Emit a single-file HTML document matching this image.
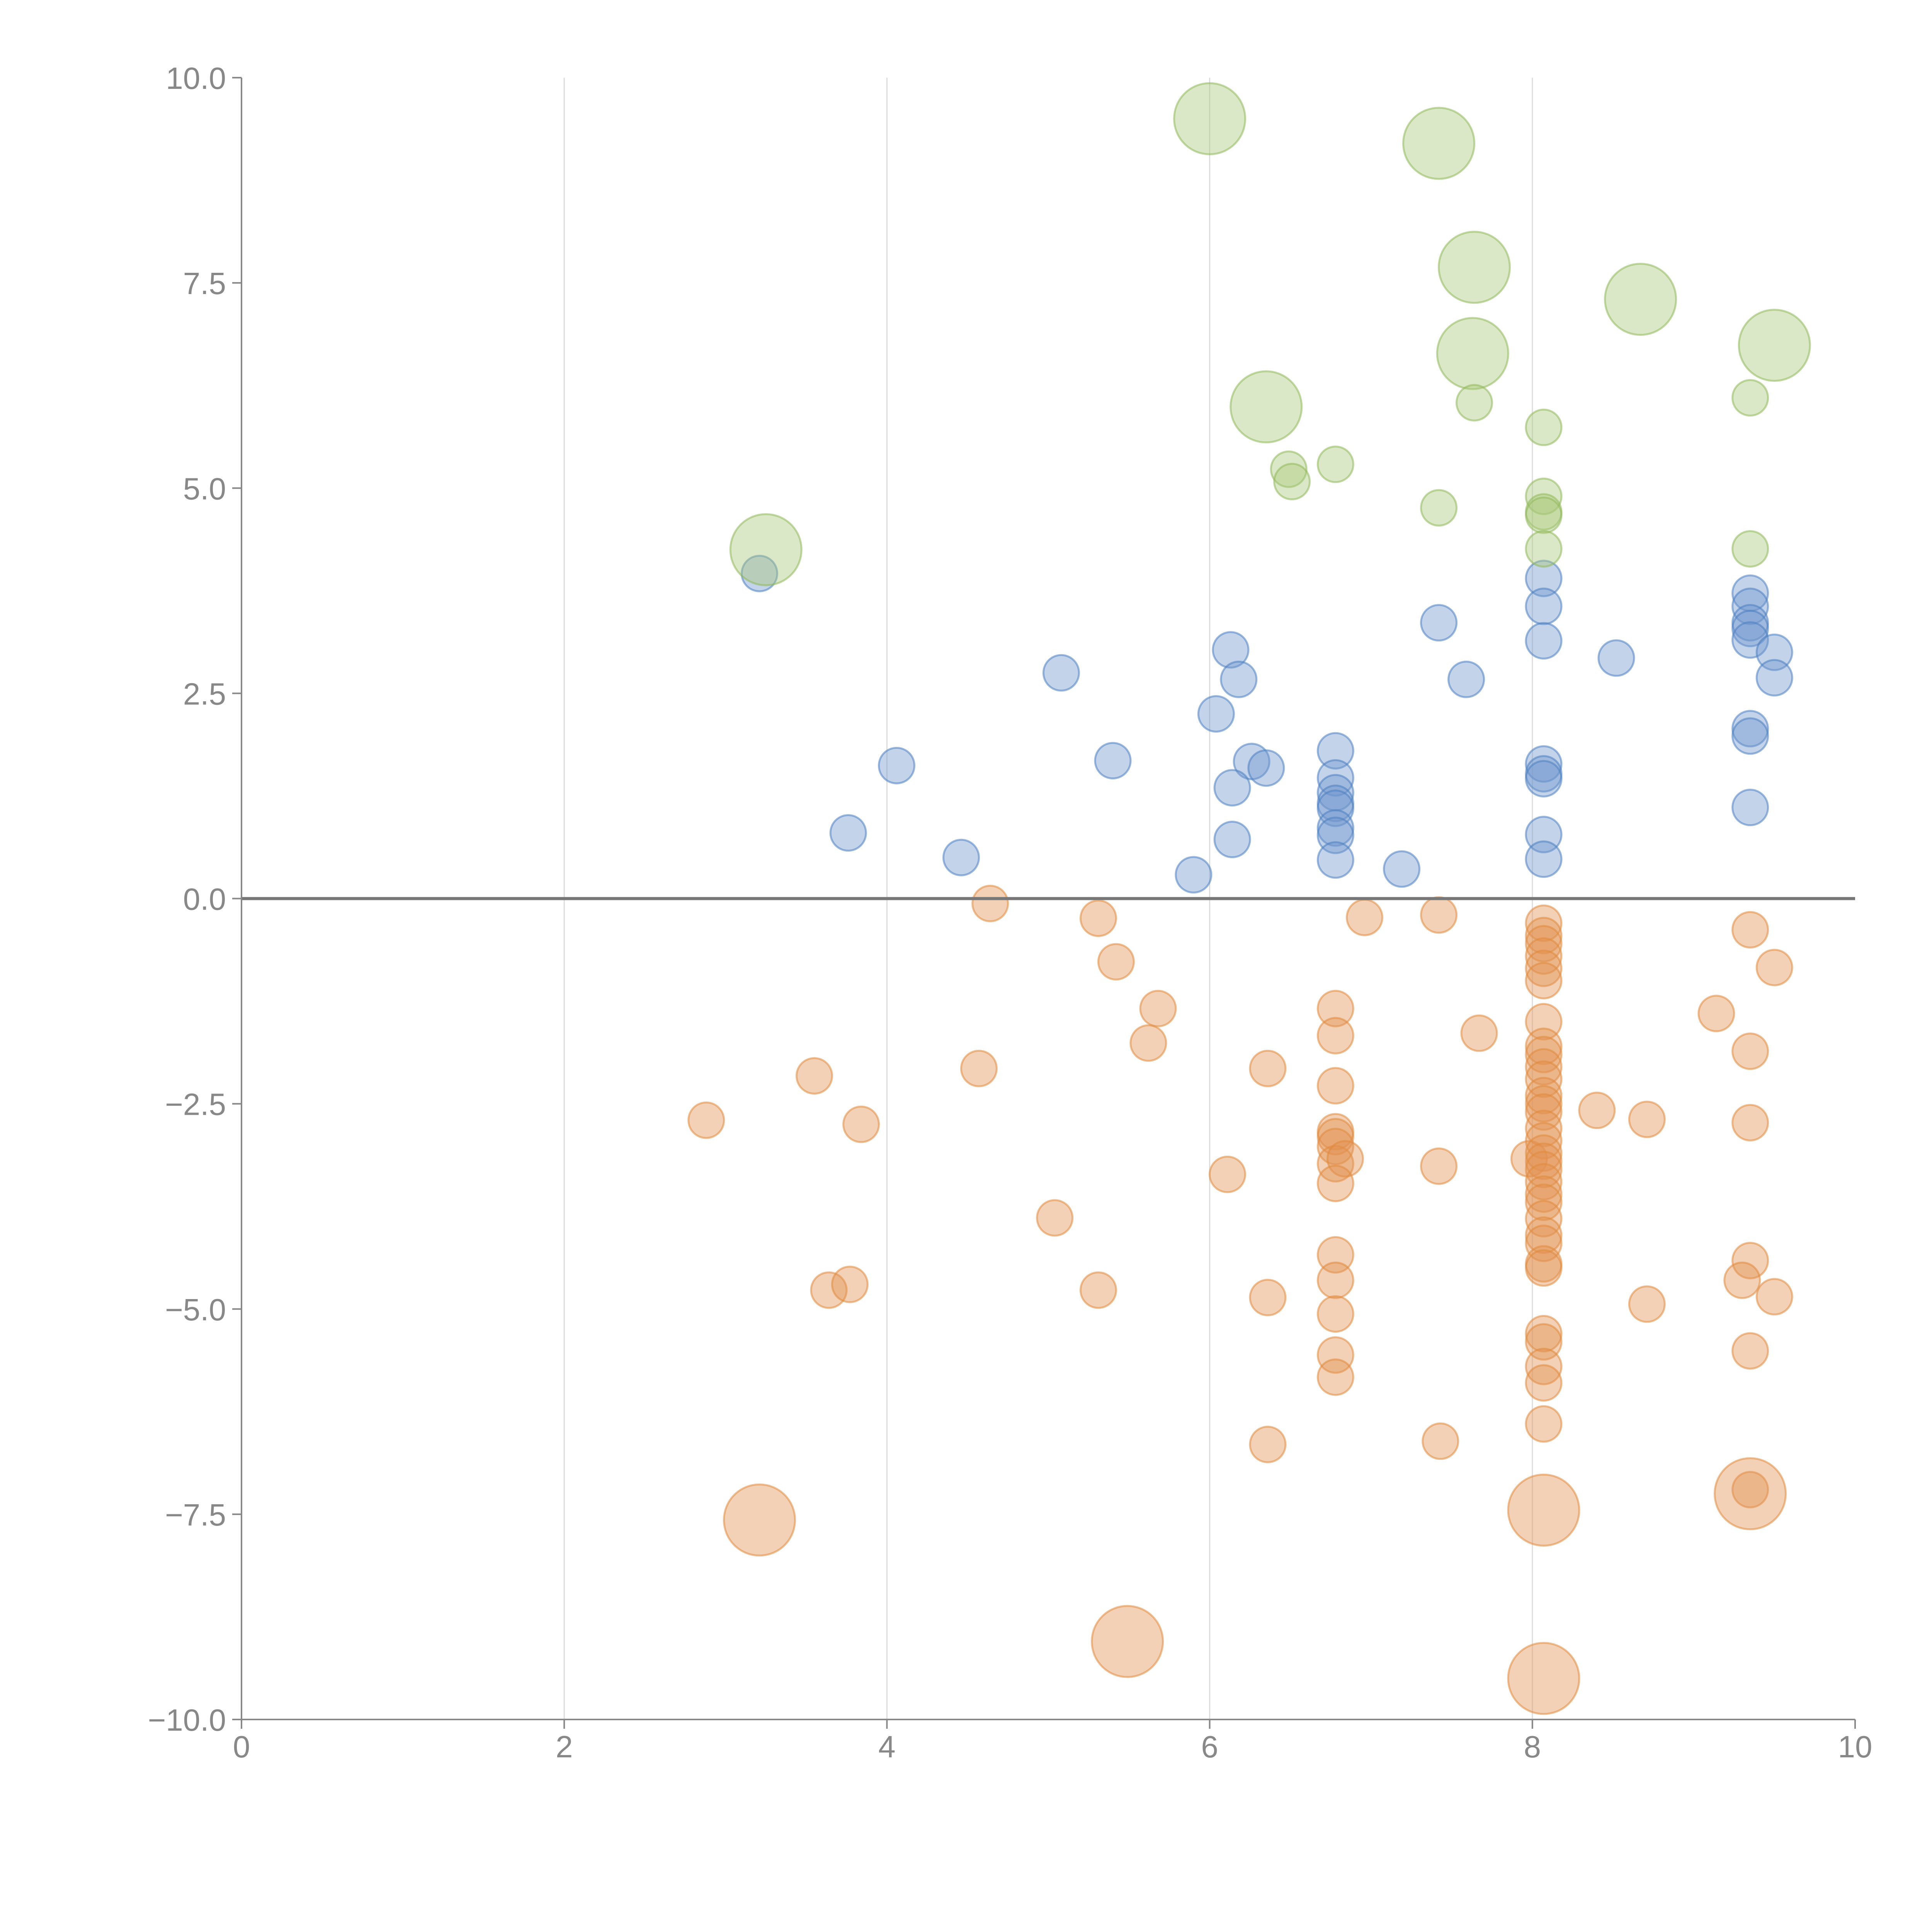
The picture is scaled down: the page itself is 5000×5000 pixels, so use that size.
<!DOCTYPE html>
<html><head><meta charset="utf-8"><style>
html,body{margin:0;padding:0;background:#fff;}
svg{display:block;font-family:"Liberation Sans",Arial,sans-serif;}
</style></head><body>
<svg id="chart" width="5000" height="5000" viewBox="0 0 5000 5000" xmlns="http://www.w3.org/2000/svg">
<g id="grid"></g>
<g id="marks"></g>
<g id="axes"></g>
</svg>
<script>
const xTicks=[0,2,4,6,8,10];
const yTicks=[10,7.5,5,2.5,0,-2.5,-5,-7.5,-10];
const yTickLabels=["10.0","7.5","5.0","2.5","0.0","\u22122.5","\u22125.0","\u22127.5","\u221210.0"];
// green series
const greenX=[6.0,7.42,7.64,8.67,9.5,7.63,6.35,3.25,7.64,8.07,9.35,6.49,6.51,6.78,7.42,8.07,8.07,8.07,8.07,9.35];
const greenY=[9.5,9.2,7.69,7.3,6.74,6.64,5.99,4.25,6.04,5.74,6.1,5.23,5.08,5.29,4.76,4.9,4.71,4.67,4.26,4.26];
const greenS=[4,4,4,4,4,4,4,4,1,1,1,1,1,1,1,1,1,1,1,1];
// blue series
const blueX=[3.21,5.08,4.06,3.76,4.46,5.40,5.90,6.04,6.13,6.18,6.26,6.35,6.14,6.14,6.78,6.78,6.78,6.78,6.78,6.78,6.78,6.78,7.19,7.42,7.59,8.07,8.07,8.07,8.07,8.07,8.07,8.07,8.07,8.52,9.35,9.35,9.35,9.35,9.35,9.5,9.5,9.35,9.35,9.35];
const blueY=[3.96,2.75,1.62,0.80,0.50,1.68,0.29,2.25,3.03,2.67,1.67,1.59,1.35,0.72,1.80,1.47,1.29,1.16,1.10,0.86,0.77,0.47,0.36,3.36,2.67,3.90,3.56,3.14,1.64,1.52,1.46,0.78,0.48,2.93,3.72,3.56,3.36,3.29,3.15,3.0,2.69,2.07,1.98,1.11];
// orange series
const orangeX=[2.88,3.55,3.84,3.64,3.77,4.64,4.57,5.04,5.31,5.42,5.31,5.68,5.62,6.11,6.36,6.36,6.36,6.78,6.78,6.78,6.78,6.78,6.78,6.78,6.84,6.78,6.78,6.78,6.78,6.78,6.78,6.96,7.42,7.42,7.43,7.67,7.98,
8.07,8.07,8.07,8.07,8.07,8.07,8.07,8.07,8.07,8.07,8.07,8.07,8.07,8.07,8.07,8.07,8.07,8.07,8.07,8.07,8.07,8.07,8.07,8.07,8.07,8.07,8.07,8.07,8.07,8.07,8.07,8.07,
8.40,8.71,8.71,9.14,9.35,9.35,9.35,9.35,9.30,9.5,9.5,9.35,9.35,
3.21,5.49,8.07,8.07,9.35];
const orangeY=[-2.70,-2.16,-2.75,-4.77,-4.70,-0.06,-2.07,-3.89,-0.24,-0.77,-4.77,-1.34,-1.76,-3.36,-2.07,-4.86,-6.65,-1.34,-1.67,-2.28,-2.84,-2.90,-3.02,-3.23,-3.17,-3.47,-4.34,-4.65,-5.06,-5.56,-5.83,-0.23,-0.20,-3.26,-6.61,-1.64,-3.17,
-0.3,-0.45,-0.55,-0.7,-0.85,-1.0,-1.5,-1.8,-1.9,-2.05,-2.2,-2.4,-2.5,-2.6,-2.8,-2.95,-3.1,-3.2,-3.3,-3.45,-3.6,-3.7,-3.9,-4.1,-4.2,-4.45,-4.5,-5.3,-5.4,-5.7,-5.9,-6.4,
-2.58,-2.69,-4.94,-1.40,-0.38,-1.86,-2.73,-4.41,-4.65,-0.84,-4.85,-5.51,-7.2,
-7.57,-9.05,-7.45,-9.5,-7.25];
const orangeS=[];
for(let i=0;i<orangeX.length;i++) orangeS.push(i>=orangeX.length-5?4:1);

const X0=625,X1=4801,Y0=4450,Y1=201;
const xs=v=>X0+(v-0)/(10-0)*(X1-X0);
const ys=v=>Y0-(v-(-10))/(20)*(Y0-Y1);
const rs=s=>46*Math.sqrt(s);
const NS="http://www.w3.org/2000/svg";
function mk(tag,attrs,parent){const e=document.createElementNS(NS,tag);for(const k in attrs)e.setAttribute(k,attrs[k]);parent.appendChild(e);return e;}
const grid=document.getElementById('grid'),marks=document.getElementById('marks'),axes=document.getElementById('axes');

xTicks.forEach(t=>{if(t>0&&t<10){const l=mk('line',{x1:xs(t),x2:xs(t),y1:Y1,y2:Y0,stroke:'#dcdcdc','stroke-width':3},grid);

}});

function series(X,Y,S,fill,stroke,name){
  for(let i=0;i<X.length;i++){
    const c=mk('circle',{cx:xs(X[i]),cy:ys(Y[i]),r:rs(S[i]),fill:fill,'fill-opacity':0.42,stroke:stroke,'stroke-opacity':0.55,'stroke-width':5},marks);
    
    
  }
}
series(orangeX,orangeY,orangeS,'#e39152','#e08a3c','bubble-orange');
series(blueX,blueY,blueX.map(()=>1),'#6f96cc','#4a7fc1','bubble-blue');
series(greenX,greenY,greenS,'#a9c87a','#8fb85a','bubble-green');

const z=mk('line',{x1:X0,x2:X1,y1:ys(0),y2:ys(0),stroke:'#777','stroke-width':8},axes);


const ya=mk('line',{x1:X0,x2:X0,y1:Y1,y2:Y0,stroke:'#888','stroke-width':4},axes);


const xa=mk('line',{x1:X0,x2:X1,y1:Y0,y2:Y0,stroke:'#888','stroke-width':4},axes);


xTicks.forEach(t=>{
  const tk=mk('line',{x1:xs(t),x2:xs(t),y1:Y0,y2:Y0+24,stroke:'#888','stroke-width':4},axes);
  
  
  const tx=mk('text',{x:xs(t),y:Y0+98,'text-anchor':'middle','font-size':80,fill:'#888'},axes);
  tx.textContent=String(t);
  
  
});
yTicks.forEach((t,i)=>{
  const tk=mk('line',{x1:X0-24,x2:X0,y1:ys(t),y2:ys(t),stroke:'#888','stroke-width':4},axes);
  
  
  const tx=mk('text',{x:X0-40,y:ys(t)+29,'text-anchor':'end','font-size':80,fill:'#888'},axes);
  tx.textContent=yTickLabels[i];
  
  
});
</script>
</body></html>
